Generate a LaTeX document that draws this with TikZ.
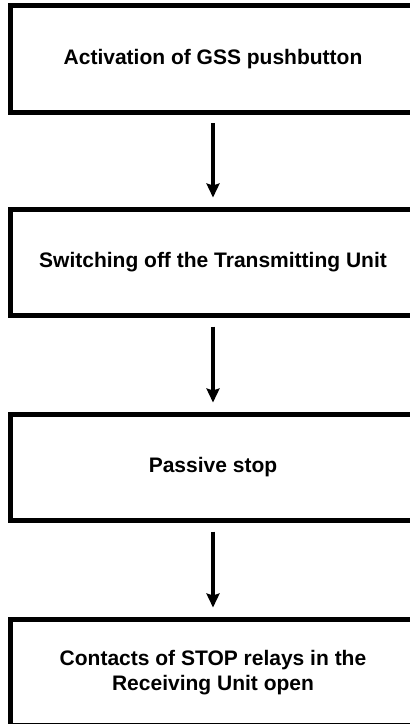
\documentclass[tikz,border=0pt]{standalone}
\usepackage{fontspec}
\setmainfont{Liberation Sans}
\usetikzlibrary{arrows.meta}

\begin{document}
\begin{tikzpicture}[x=1pt,y=1pt,>={Stealth[length=14pt,width=13pt,inset=2pt]},
stepbox/.style={draw,line width=5pt,minimum width=405pt,minimum height=106.5pt,align=center,font=\bfseries\fontsize{21}{25}\selectfont},
flow/.style={->,line width=3.2pt,shorten <=8.5pt,shorten >=9pt}]
\useasboundingbox (0,0) rectangle (410,-724);
\clip (0,0) rectangle (410,-724);

\node[stepbox] (gss) at (213,-58.75) {Activation of GSS pushbutton};
\node[stepbox] (tx) at (213,-262.25) {Switching off the Transmitting Unit};
\node[stepbox] (pass) at (213,-467.25) {Passive stop};
\node[stepbox] (relay) at (213,-672.25) {Contacts of STOP relays in the\\Receiving Unit open};

\foreach \a/\b in {gss/tx,tx/pass,pass/relay} {
\draw[flow] (\a) -- (\b); }
\end{tikzpicture}
\end{document}
